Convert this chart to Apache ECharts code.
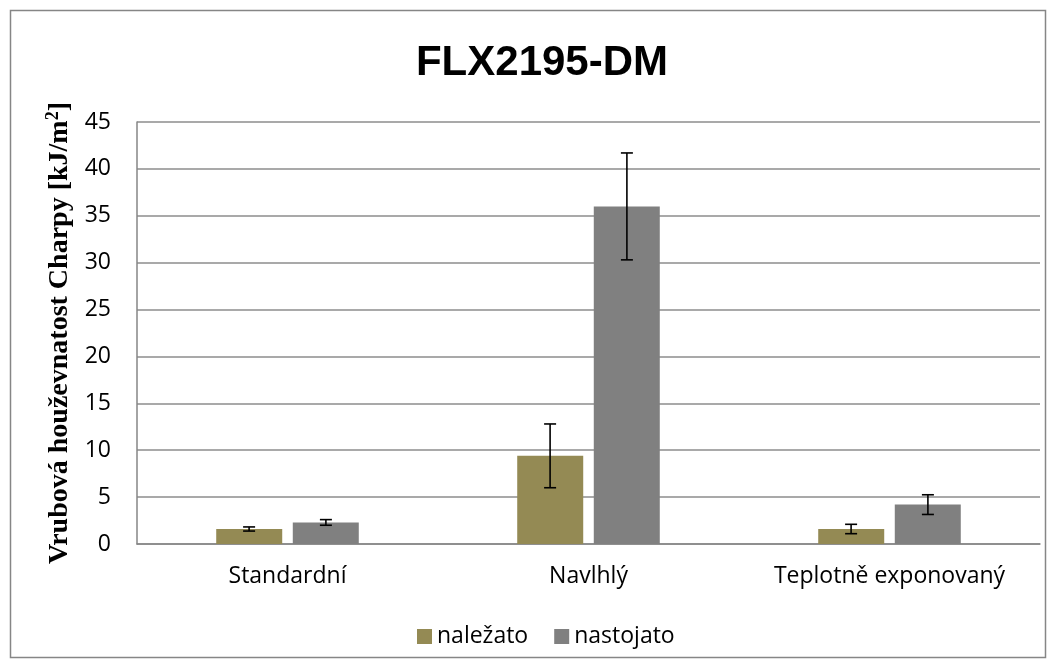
<!DOCTYPE html>
<html><head><meta charset="utf-8">
<script src="https://cdn.jsdelivr.net/npm/echarts@6/dist/echarts.min.js"></script>
<style>html,body{margin:0;padding:0;background:#fff}#c{width:1056px;height:668px}</style>
</head><body><div id="c"></div>
<script>
const categories = ['Standardní', 'Navlhlý', 'Teplotně exponovaný'];
const seriesNames = ['naležato', 'nastojato'];
const lezato = [1.6, 9.4, 1.6];
const lezatoErr = [0.22, 3.4, 0.5];
const stojato = [2.3, 36.0, 4.2];
const stojatoErr = [0.3, 5.7, 1.05];
const yTicks = [0, 5, 10, 15, 20, 25, 30, 35, 40, 45];
const colors = ['#948A54', '#808080'];

const chart = echarts.init(document.getElementById('c'));
function errSeries(vals, errs, side) {
  return {
    type: 'custom', z: 10, silent: true,
    data: vals.map((v, i) => [i, v, errs[i]]),
    renderItem: function (params, api) {
      const i = api.value(0), v = api.value(1), e = api.value(2);
      const catW = api.size([1, 0])[0];
      const off = side * catW * 38.4 / 301;
      const top = api.coord([i, v + e]);
      const bot = api.coord([i, v - e]);
      const x = top[0] + off;
      const hw = 6;
      const st = { stroke: '#000', lineWidth: 1.6 };
      return { type: 'group', children: [
        { type: 'line', shape: { x1: x, y1: top[1], x2: x, y2: bot[1] }, style: st },
        { type: 'line', shape: { x1: x - hw, y1: top[1], x2: x + hw, y2: top[1] }, style: st },
        { type: 'line', shape: { x1: x - hw, y1: bot[1], x2: x + hw, y2: bot[1] }, style: st }
      ]};
    }
  };
}
chart.setOption({
  animation: false,
  color: colors,
  title: { text: 'FLX2195-DM', left: 537, textAlign: 'center', top: 37,
    textStyle: { fontFamily: 'Liberation Sans', fontWeight: 'bold', fontSize: 42, color: '#000' } },
  legend: {
    data: seriesNames, top: 620, left: 412, itemWidth: 15, itemHeight: 15, itemGap: 26,
    icon: 'rect',
    textStyle: { fontFamily: 'Open Sans', fontSize: 23, color: '#000' }
  },
  graphic: [{ type: 'rect', shape: { x: 10.5, y: 10.5, width: 1035, height: 647 },
    style: { fill: 'none', stroke: '#868686', lineWidth: 1.5 }, silent: true }],
  grid: { left: 137, right: 16, top: 122, bottom: 124 },
  xAxis: {
    type: 'category', data: categories,
    axisLine: { lineStyle: { color: '#868686', width: 1.5 } },
    axisTick: { show: false },
    axisLabel: { fontFamily: 'Open Sans', fontSize: 23, color: '#000', margin: 21 }
  },
  yAxis: {
    type: 'value', min: 0, max: 45, interval: 5,
    name: 'Vrubová houževnatost Charpy [kJ/m{sup|2}]',
    nameLocation: 'middle', nameGap: 58, nameRotate: 90,
    nameTextStyle: { fontFamily: 'Liberation Serif', fontWeight: 'bold', fontSize: 28, color: '#000',
      rich: { sup: { fontFamily: 'Liberation Serif', fontWeight: 'bold', fontSize: 18, verticalAlign: 'top', padding: [0, 0, 12, 0] } } },
    axisLine: { show: true, lineStyle: { color: '#868686', width: 1.5 } },
    axisTick: { show: false },
    splitLine: { lineStyle: { color: '#8c8c8c', width: 1.5 } },
    axisLabel: { fontFamily: 'Open Sans', fontSize: 23, color: '#000', margin: 26,
      formatter: v => yTicks.includes(v) ? String(v) : '' }
  },
  series: [
    { name: seriesNames[0], type: 'bar', data: lezato, barWidth: 66, barGap: '16%',
      itemStyle: { color: colors[0] } },
    { name: seriesNames[1], type: 'bar', data: stojato, barWidth: 66, barGap: '16%',
      itemStyle: { color: colors[1] } },
    errSeries(lezato, lezatoErr, -1),
    errSeries(stojato, stojatoErr, 1)
  ]
});
</script></body></html>
